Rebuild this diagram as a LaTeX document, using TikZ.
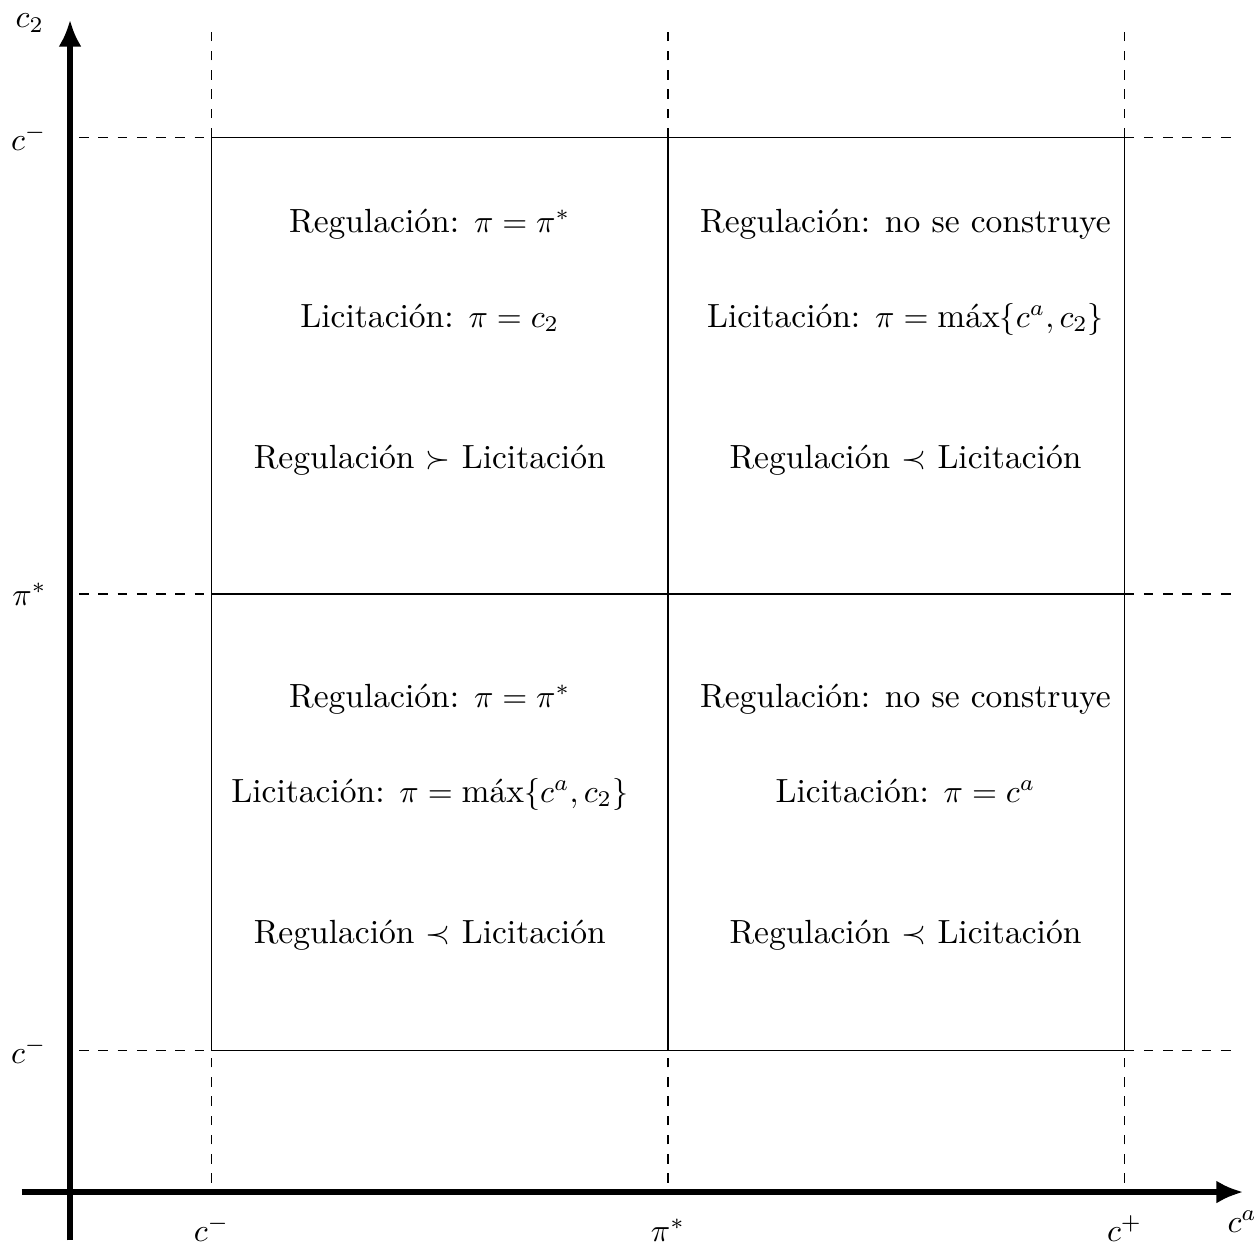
\documentclass[tikz,border=0pt]{standalone}
\usepackage{amsmath}
\usetikzlibrary{arrows.meta}

\begin{document}
\begin{tikzpicture}[
  every node/.style={font=\fontsize{10.45pt}{12.5pt}\selectfont},
  axis/.style={ultra thick,-{Latex[length=8.4pt,width=7.2pt]}},
  guide/.style={dashed},
  cell/.style={anchor=base},
  tick/.style={inner sep=0pt}
]
\useasboundingbox (-0.767,-0.58) rectangle (13.0,13.056);
% ejes
\coordinate (xa) at (-0.53,0);
\coordinate (xb) at (12.85,0);
\coordinate (ya) at (0,-0.53);
\coordinate (yb) at (0,12.84);
\draw[axis] (ya) -- (yb);
\draw[axis] (xa) -- (xb);
\node[tick,anchor=base] (lbc2) at (-0.44,12.75) {$c_2$};
\node[tick,anchor=base west] (lbca) at (12.67,-0.44) {$c^a$};
% esquinas de la rejilla
\coordinate (g11) at (1.55,1.55);
\coordinate (g21) at (6.55,1.55);
\coordinate (g31) at (11.55,1.55);
\coordinate (g12) at (1.55,6.55);
\coordinate (g22) at (6.55,6.55);
\coordinate (g32) at (11.55,6.55);
\coordinate (g13) at (1.55,11.55);
\coordinate (g23) at (6.55,11.55);
\coordinate (g33) at (11.55,11.55);
% extremos de las guias
\coordinate (b1) at (1.55,0.1);
\coordinate (b2) at (6.55,0.1);
\coordinate (b3) at (11.55,0.1);
\coordinate (t1) at (1.55,12.72);
\coordinate (t2) at (6.55,12.72);
\coordinate (t3) at (11.55,12.72);
\coordinate (l1) at (0.1,1.55);
\coordinate (l2) at (0.1,6.55);
\coordinate (l3) at (0.1,11.55);
\coordinate (r1) at (12.75,1.55);
\coordinate (r2) at (12.75,6.55);
\coordinate (r3) at (12.75,11.55);
\draw[guide] (b1) -- (g11) (g13) -- (t1);
\draw[guide] (b2) -- (g21) (g23) -- (t2);
\draw[guide] (b3) -- (g31) (g33) -- (t3);
\draw[guide] (l1) -- (g11) (g31) -- (r1);
\draw[guide] (l2) -- (g12) (g32) -- (r2);
\draw[guide] (l3) -- (g13) (g33) -- (r3);
\draw (g11) -- (g31) (g12) -- (g32) (g13) -- (g33);
\draw (g11) -- (g13) (g21) -- (g23) (g31) -- (g33);
% marcas
\node[tick,anchor=base] (xm) at (1.55,-0.54) {$c^-$};
\node[tick,anchor=base] (xp) at (6.55,-0.54) {$\pi^*$};
\node[tick,anchor=base] (xc) at (11.55,-0.54) {$c^+$};
\node[tick,anchor=east] (ym) at (-0.25,1.55) {$c^-$};
\node[tick,anchor=east] (yp) at (-0.25,6.55) {$\pi^*$};
\node[tick,anchor=east] (yc) at (-0.25,11.55) {$c^-$};
% regiones
\node[cell] (regA) at (3.94,10.51) {Regulación: $\pi=\pi^*$};
\node[cell] (licA) at (3.94,9.474) {Licitación: $\pi=c_2$};
\node[cell] (cmpA) at (3.94,7.93) {Regulación $\succ$ Licitación};
\node[cell] (regB) at (9.15,10.51) {Regulación: no se construye};
\node[cell] (licB) at (9.15,9.474) {Licitación: $\pi=\mathop{\text{máx}}\{c^a,c_2\}$};
\node[cell] (cmpB) at (9.15,7.93) {Regulación $\prec$ Licitación};
\node[cell] (regC) at (3.94,5.312) {Regulación: $\pi=\pi^*$};
\node[cell] (licC) at (3.94,4.272) {Licitación: $\pi=\mathop{\text{máx}}\{c^a,c_2\}$};
\node[cell] (cmpC) at (3.94,2.727) {Regulación $\prec$ Licitación};
\node[cell] (regD) at (9.15,5.312) {Regulación: no se construye};
\node[cell] (licD) at (9.15,4.272) {Licitación: $\pi=c^a$};
\node[cell] (cmpD) at (9.15,2.727) {Regulación $\prec$ Licitación};
\end{tikzpicture}
\end{document}
